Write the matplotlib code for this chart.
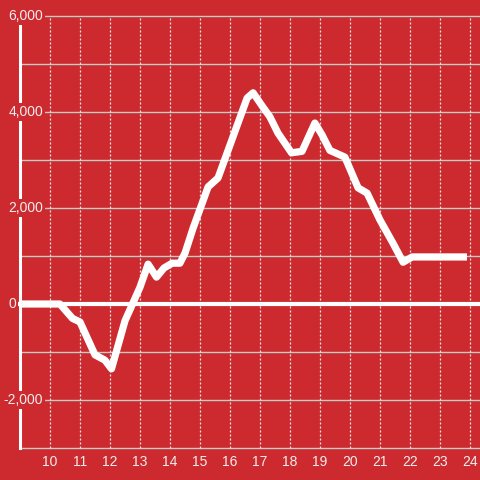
import matplotlib
matplotlib.use("Agg")
import matplotlib.pyplot as plt
import matplotlib.transforms as mtransforms

plt.rcParams['font.family'] = ['Liberation Sans', 'DejaVu Sans']

# ---- data ----
hours = [9.0, 10.33, 10.75, 11.0, 11.5, 11.83, 12.05, 12.5, 13.0, 13.27, 13.55,
         13.8, 14.07, 14.33, 14.5, 14.77, 15.27, 15.6, 16.57, 16.77, 17.1, 17.33,
         17.6, 18.05, 18.4, 18.83, 19.07, 19.33, 19.83, 20.27, 20.57, 21.0, 21.43,
         21.77, 22.07, 23.9]
values = [0, 0, -300, -375, -1060, -1170, -1350, -350, 350, 830, 560,
          750, 850, 850, 1060, 1580, 2440, 2625, 4290, 4400, 4100, 3900,
          3560, 3150, 3180, 3770, 3520, 3200, 3060, 2420, 2310, 1750, 1270,
          870, 980, 980]
x_ticks = list(range(10, 25))
x_tick_labels = [str(v) for v in x_ticks]
y_ticks = [-2000, 0, 2000, 4000, 6000]
y_tick_labels = ["-2,000", "0", "2,000", "4,000", "6,000"]
y_grid = list(range(-3000, 7000, 1000))

BG = '#cc2a2f'
TXT = '#f2eeee'
GRID = '#c8c8c8'
VGRID = '#e6e6e6'

fig = plt.figure(figsize=(4.8, 4.8), dpi=100, facecolor=BG)
W = H = 480.0
ax = fig.add_axes([20 / W, 32 / H, 460 / W, 432 / H])
ax.set_facecolor(BG)
ax.set_xlim(9, 9 + 460 / 30.0)
ax.set_ylim(-3000, 6000)

for s in ['top', 'right', 'bottom']:
    ax.spines[s].set_visible(False)
ax.spines['left'].set_color('white')
ax.spines['left'].set_linewidth(2.2)
ax.spines['left'].set_zorder(3.5)

# grid lines
for yv in y_grid:
    if yv == 0:
        continue
    ax.axhline(yv, color=GRID, lw=1.0, zorder=1, clip_on=False)
ax.vlines(x_ticks, -3000, 6000, colors=VGRID, lw=0.9,
          linestyles=(0, (1.6, 1.6)), zorder=1, clip_on=False)

# zero line
ax.axhline(0, xmin=-3 / 460, xmax=1, color='white', lw=3, zorder=4, clip_on=False)

# data line
ax.plot(hours, values, color='white', lw=5.2, solid_joinstyle='round',
        solid_capstyle='butt', zorder=3)

# x tick labels
ax.set_xticks(x_ticks)
ax.set_xticklabels(x_tick_labels)
ax.tick_params(axis='x', length=0, pad=5, labelsize=10, labelcolor=TXT)
ax.set_yticks([])

# y tick labels, drawn inside plot with background box
trans = mtransforms.blended_transform_factory(ax.transAxes, ax.transData)
for yv, lab in zip(y_ticks, y_tick_labels):
    xr = (16 - 20) / 460 if yv == 0 else (43 - 20) / 460
    ax.text(xr, yv, lab, transform=trans, ha='right', va='center',
            fontsize=10, color=TXT, zorder=6, clip_on=False,
            bbox=dict(facecolor=BG, edgecolor='none', pad=1.2))

fig.savefig('out.png', dpi=100, facecolor=BG)
